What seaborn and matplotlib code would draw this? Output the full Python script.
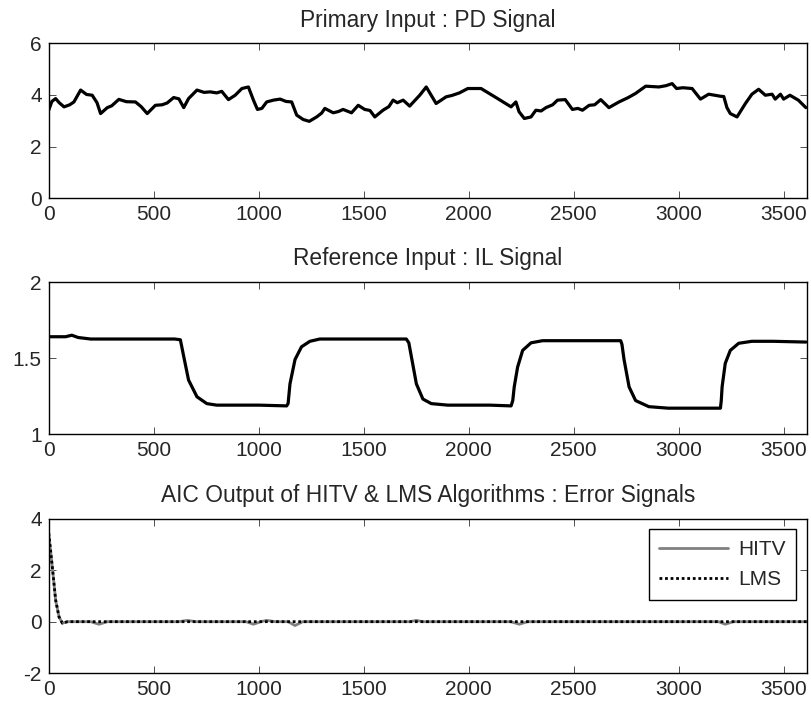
import matplotlib
matplotlib.use("Agg")
import matplotlib.pyplot as plt
import seaborn as sns
import numpy as np
import pandas as pd

# ---------------- data ----------------
pd_x = [0, 15, 33, 50, 73, 100, 120, 152, 180, 207, 230, 247, 279, 300, 334, 370, 413,
        440, 469, 508, 540, 564, 595, 620, 643, 666,
        706, 740, 769, 800, 824, 856, 888, 920, 951, 975, 994, 1015, 1038, 1070, 1102,
        1130, 1157, 1181, 1212,
        1241, 1276, 1300, 1315, 1355, 1380, 1402, 1442, 1474, 1505, 1530, 1553, 1592,
        1620, 1640, 1660, 1688, 1719,
        1767, 1798, 1845, 1893, 1920, 1956, 1996, 2059, 2130, 2202, 2225, 2240, 2265,
        2297, 2320, 2345,
        2368, 2400, 2423, 2460, 2494, 2520, 2542, 2574, 2600, 2629, 2668, 2716, 2760,
        2795, 2843, 2906, 2940, 2969,
        2990, 3020, 3064, 3104, 3143, 3200, 3215, 3230, 3246, 3278, 3318, 3349, 3381,
        3413, 3445, 3460, 3485, 3500, 3530, 3570, 3606]
pd_y = [3.41, 3.75, 3.86, 3.70, 3.54, 3.62, 3.73, 4.19, 4.02, 3.99, 3.70, 3.28, 3.51,
        3.58, 3.83, 3.74, 3.73, 3.55, 3.28, 3.60, 3.62, 3.69, 3.90, 3.85, 3.51, 3.86,
        4.19, 4.10, 4.12, 4.08, 4.14, 3.82, 3.99, 4.25, 4.31, 3.80, 3.44, 3.48, 3.73,
        3.80, 3.84, 3.75, 3.73, 3.22, 3.05,
        2.98, 3.15, 3.30, 3.48, 3.31, 3.36, 3.44, 3.31, 3.60, 3.44, 3.40, 3.15, 3.41,
        3.55, 3.80, 3.70, 3.80, 3.57,
        3.99, 4.31, 3.67, 3.93, 3.98, 4.08, 4.25, 4.25, 3.90, 3.54, 3.73, 3.35, 3.09,
        3.15, 3.41, 3.38,
        3.51, 3.62, 3.80, 3.82, 3.44, 3.48, 3.41, 3.60, 3.62, 3.82, 3.51, 3.73, 3.90,
        4.06, 4.34, 4.31, 4.36, 4.44, 4.25, 4.28, 4.25, 3.84, 4.03, 3.95, 3.94,
        3.51, 3.28, 3.15, 3.67, 4.03, 4.22, 3.99, 4.03, 3.84, 4.03, 3.84, 3.99, 3.80,
        3.51]

il_x = [0, 80, 110, 140, 200, 400, 600, 627, 643, 666, 706, 753, 800, 1000, 1133, 1140,
        1149, 1173, 1204, 1244, 1291, 1500, 1703, 1715, 1727, 1751, 1782, 1822, 1900,
        2100, 2202, 2210, 2217, 2233, 2257, 2297, 2352, 2500, 2724, 2730, 2740, 2764,
        2795, 2858, 2950, 3100, 3199, 3203, 3207, 3222, 3246, 3286, 3349, 3450, 3606]
il_y = [1.64, 1.64, 1.65, 1.635, 1.625, 1.625, 1.625, 1.62, 1.51, 1.355, 1.245, 1.20,
        1.19, 1.19, 1.185, 1.20, 1.33, 1.49, 1.574, 1.61, 1.625, 1.625, 1.625, 1.60,
        1.51, 1.33, 1.23, 1.20, 1.19, 1.19, 1.185, 1.22, 1.31, 1.44, 1.55, 1.60, 1.614,
        1.614, 1.614, 1.59, 1.49, 1.31, 1.22, 1.18, 1.17, 1.17, 1.17, 1.22, 1.31, 1.465,
        1.55, 1.597, 1.61, 1.61, 1.605]

hitv_x = [0, 17, 33, 49, 65, 90, 200, 239, 280, 620, 660, 700, 940, 975, 1010, 1038,
          1080, 1140, 1173, 1210, 1720, 1751, 1780, 2200, 2241, 2280, 3190, 3222, 3260, 3610]
hitv_y = [3.45, 2.14, 0.84, 0.19, -0.06, 0.0, 0.0, -0.10, 0.0, 0.0, 0.05, 0.0, 0.0,
          -0.10, 0.0, 0.05, 0.0, 0.0, -0.15, 0.0, 0.0, 0.05, 0.0, 0.0, -0.10, 0.0, 0.0,
          -0.10, 0.0, 0.0]

lms_x = [0, 17, 33, 49, 65, 90, 3610]
lms_y = [3.45, 2.14, 0.84, 0.19, -0.06, 0.0, 0.0]

titles = ["Primary Input : PD Signal", "Reference Input : IL Signal",
          "AIC Output of HITV & LMS Algorithms : Error Signals"]
x_ticks = [0, 500, 1000, 1500, 2000, 2500, 3000, 3500]
y_ticks_1 = [0, 2, 4, 6]
y_ticks_2 = [1, 1.5, 2]
y_ticks_3 = [-2, 0, 2, 4]
series_names = ["HITV", "LMS"]

# ---------------- style ----------------
sns.set_style("white")
plt.rcParams['font.family'] = ['Liberation Sans', 'DejaVu Sans']
FS = 15

fig = plt.figure(figsize=(8.12, 7.04), dpi=100)
W = 0.9335
L = 0.0600
ax1 = fig.add_axes([L, 0.7183, W, 0.2202])
ax2 = fig.add_axes([L, 0.3835, W, 0.2159])
ax3 = fig.add_axes([L, 0.0440, W, 0.2188])

sns.lineplot(x=pd_x, y=pd_y, ax=ax1, color="black", linewidth=2.3, sort=False)
sns.lineplot(x=il_x, y=il_y, ax=ax2, color="black", linewidth=2.3, sort=False)

err = pd.DataFrame({
    "x": hitv_x + lms_x,
    "y": hitv_y + lms_y,
    "alg": [series_names[0]] * len(hitv_x) + [series_names[1]] * len(lms_x),
})
sns.lineplot(data=err, x="x", y="y", hue="alg", style="alg",
             palette={"HITV": "#808080", "LMS": "black"},
             dashes={"HITV": "", "LMS": (1, 1)},
             linewidth=2.0, sort=False, ax=ax3)

ylims = [(0, 6), (1, 2), (-2, 4)]
yts = [y_ticks_1, y_ticks_2, y_ticks_3]
for ax, t, yl, yt in zip([ax1, ax2, ax3], titles, ylims, yts):
    ax.set_xlim(0, 3610)
    ax.set_ylim(*yl)
    ax.set_xticks(x_ticks)
    ax.set_yticks(yt)
    ax.set_yticklabels([("%g" % v) for v in yt])
    ax.set_xlabel("")
    ax.set_ylabel("")
    ax.set_title(t, fontsize=16.4, pad=12)
    for s in ax.spines.values():
        s.set_visible(True)
        s.set_color("black")
        s.set_linewidth(1.0)
    ax.tick_params(direction="in", length=5, width=0.6, color="#333333",
                   labelsize=FS, top=True, right=True, bottom=True, left=True,
                   pad=5)

leg = ax3.legend(loc="upper right", fontsize=FS, frameon=True, fancybox=False,
                 edgecolor="black", handlelength=3.3, handletextpad=0.5,
                 borderpad=0.5, labelspacing=0.55, borderaxespad=0.5)
leg.get_frame().set_linewidth(1.0)
leg.get_frame().set_alpha(1)

fig.savefig("out.png", dpi=100)
